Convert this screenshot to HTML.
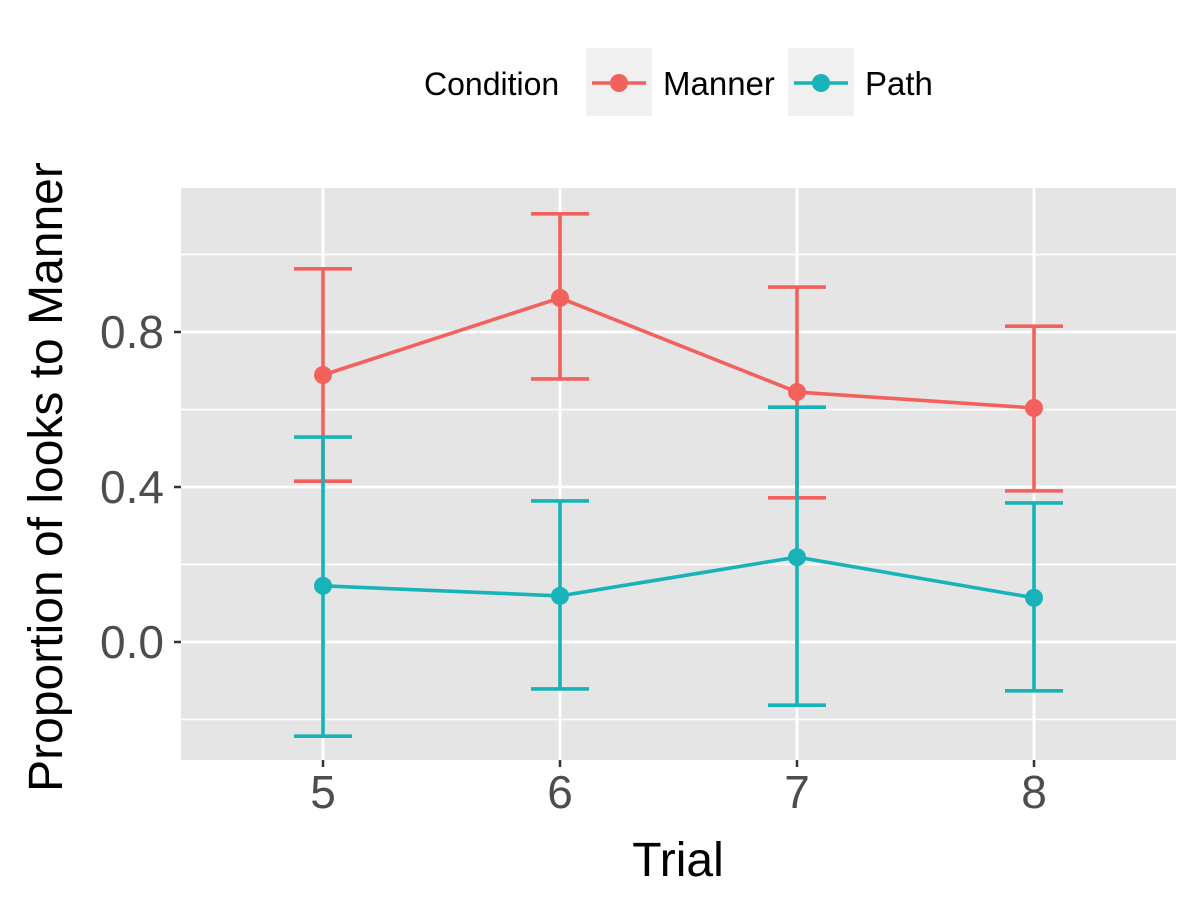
<!DOCTYPE html>
<html><head><meta charset="utf-8">
<style>
html,body{margin:0;padding:0;background:#fff;}
svg{display:block;font-family:"Liberation Sans",Arial,sans-serif;}
</style></head>
<body>
<svg id="chart" width="1200" height="900" viewBox="0 0 1200 900" xmlns="http://www.w3.org/2000/svg"></svg>
<script>
const trials = [5, 6, 7, 8];
const mannerMean = [0.689, 0.888, 0.645, 0.604];
const mannerHi = [0.963, 1.105, 0.916, 0.815];
const mannerLo = [0.415, 0.679, 0.372, 0.390];
const pathMean = [0.145, 0.119, 0.219, 0.114];
const pathHi = [0.529, 0.364, 0.606, 0.359];
const pathLo = [-0.243, -0.121, -0.163, -0.126];
const yTicks = [0.0, 0.4, 0.8];
const yMinor = [-0.2, 0.2, 0.6, 1.0];
const yTickLabels = ["0.0", "0.4", "0.8"];

const NS = "http://www.w3.org/2000/svg";
const svg = document.getElementById("chart");
const X0 = 181, X1 = 1176, Y0 = 188, Y1 = 760;
const xs = v => 323 + (v - 5) * 237;
const ys = v => 642 - v * 387.5;
function mk(tag, attrs, parent) {
  const e = document.createElementNS(NS, tag);
  for (const k in attrs) e.setAttribute(k, attrs[k]);
  (parent || svg).appendChild(e);
  return e;
}
const panel = mk("rect", {x: X0, y: Y0, width: X1 - X0, height: Y1 - Y0, fill: "#e5e5e5"});


yMinor.forEach(v => {
  const l = mk("line", {x1: X0, x2: X1, y1: ys(v), y2: ys(v), stroke: "#fff", "stroke-width": 1.4});
  
  
});
yTicks.forEach((v, i) => {
  const l = mk("line", {x1: X0, x2: X1, y1: ys(v), y2: ys(v), stroke: "#fff", "stroke-width": 2.8});
  
  
  const t = mk("line", {x1: X0 - 7, x2: X0, y1: ys(v), y2: ys(v), stroke: "#333", "stroke-width": 2.5});
  
  
  const tx = mk("text", {x: X0 - 17, y: ys(v) + 16, "text-anchor": "end", "font-size": 46, fill: "#4d4d4d"});
  tx.textContent = yTickLabels[i];
  
  
});
trials.forEach(v => {
  const l = mk("line", {x1: xs(v), x2: xs(v), y1: Y0, y2: Y1, stroke: "#fff", "stroke-width": 2.8});
  
  
  const t = mk("line", {x1: xs(v), x2: xs(v), y1: Y1, y2: Y1 + 7, stroke: "#333", "stroke-width": 2.5});
  
  
  const tx = mk("text", {x: xs(v), y: Y1 + 48, "text-anchor": "middle", "font-size": 46, fill: "#4d4d4d"});
  tx.textContent = v;
  
  
});
function series(name, color, mean, hi, lo) {
  const g = mk("g", {});
  
  
  trials.forEach((t, i) => {
    const x = xs(t);
    const e = mk("path", {d: `M${x-29},${ys(hi[i])}H${x+29}M${x},${ys(hi[i])}V${ys(lo[i])}M${x-29},${ys(lo[i])}H${x+29}`, stroke: color, "stroke-width": 3.6, fill: "none"}, g);
    
    
  });
  const line = mk("polyline", {points: trials.map((t, i) => xs(t) + "," + ys(mean[i])).join(" "), stroke: color, "stroke-width": 3.6, fill: "none"}, g);
  
  
  trials.forEach((t, i) => {
    const c = mk("circle", {cx: xs(t), cy: ys(mean[i]), r: 9, fill: color}, g);
    
    
  });
}
series("manner", "#F3615C", mannerMean, mannerHi, mannerLo);
series("path", "#17B3B8", pathMean, pathHi, pathLo);
</script>
<script>
(function(){
const NS = "http://www.w3.org/2000/svg";
const svg = document.getElementById("chart");
function mk(tag, attrs, parent) {
  const e = document.createElementNS(NS, tag);
  for (const k in attrs) e.setAttribute(k, attrs[k]);
  (parent || svg).appendChild(e);
  return e;
}
const xt = mk("text", {x: 678, y: 876, "text-anchor": "middle", "font-size": 48, fill: "#000"});
xt.textContent = "Trial";


const yt = mk("text", {x: 0, y: 0, "text-anchor": "middle", "font-size": 48, fill: "#000", transform: "translate(62,477) rotate(-90)"});
yt.textContent = "Proportion of looks to Manner";


const lg = mk("g", {});


const lt = mk("text", {x: 424, y: 95, "font-size": 32, fill: "#000"}, lg);
lt.textContent = "Condition";


[["Manner", "#F3615C", 586], ["Path", "#17B3B8", 788]].forEach(([lab, col, x]) => {
  const g = mk("g", {}, lg);
  
  
  mk("rect", {x: x, y: 48, width: 66, height: 68, fill: "#f0f0f0"}, g);
  mk("line", {x1: x + 6, x2: x + 60, y1: 83, y2: 83, stroke: col, "stroke-width": 3.6}, g);
  mk("circle", {cx: x + 33, cy: 83, r: 9, fill: col}, g);
  const t = mk("text", {x: x + 77, y: 95, "font-size": 33, fill: "#000"}, g);
  t.textContent = lab;
});
})();
</script>
</body></html>
